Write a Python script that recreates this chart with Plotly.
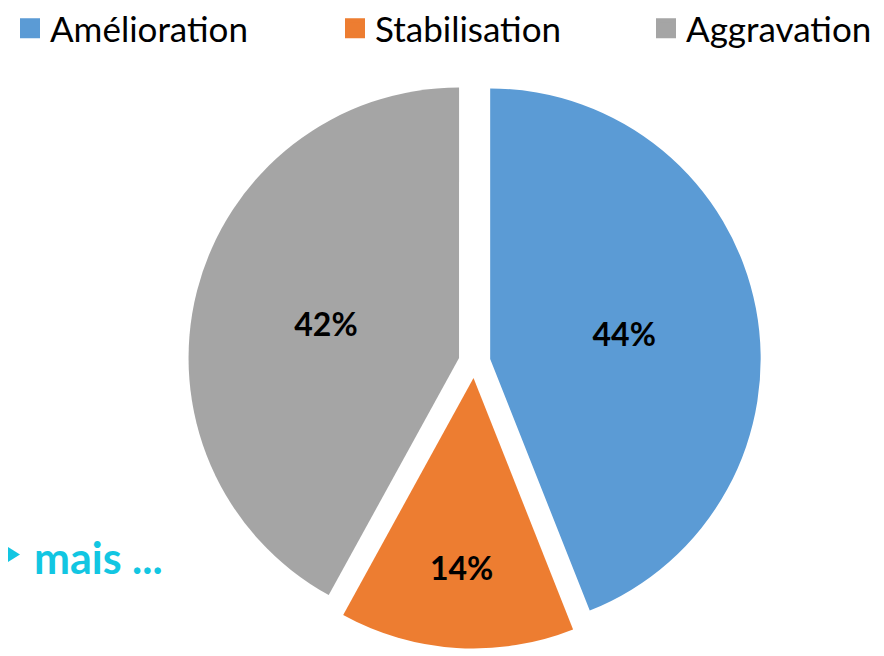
import plotly.graph_objects as go

labels = ["Amélioration", "Stabilisation", "Aggravation"]
values = [44, 14, 42]
colors = ["#5B9BD5", "#ED7D31", "#A5A5A5"]
note_text = "mais ..."
note_color = "#12C6E2"

W, H = 884, 656
cx, cy, r, pull = 466.5, 354, 270.5, 0.059
half = r * (1 + pull)

fig = go.Figure()
fig.add_trace(go.Pie(
    labels=labels, values=values, sort=False, direction="clockwise", rotation=0,
    marker=dict(colors=colors, line=dict(width=0)),
    pull=[pull] * len(values),
    texttemplate="%{percent:.0%}", textposition="inside", insidetextorientation="horizontal",
    textfont=dict(family="Lato", size=32, color="black", weight="bold"),
    domain=dict(x=[(cx - 400) / W, (cx + 400) / W], y=[1 - (cy + half) / H, 1 - (cy - half) / H]),
    hoverinfo="skip", showlegend=False,
))

# legend entries (one legend per category, to reproduce the wide spacing)
legend_x = [2, 327, 638]
legend_names = ["legend", "legend2", "legend3"]
for lab, col, ln in zip(labels, colors, legend_names):
    fig.add_trace(go.Scatter(
        x=[None], y=[None], mode="markers", name=lab, legend=ln,
        marker=dict(symbol="square", size=16, color=col, line=dict(width=4, color=col)),
        hoverinfo="skip",
    ))

layout_legends = {}
for lx, ln in zip(legend_x, legend_names):
    layout_legends[ln] = dict(
        orientation="h", x=lx / W, y=1 + 9 / H, xanchor="left", yanchor="top",
        font=dict(family="Lato", size=35, color="black"), bgcolor="rgba(0,0,0,0)",
    )

# bullet triangle before the note
tri = [(0, 539), (0, 554), (12, 546.5)]
tri_path = "M " + " L ".join(f"{x / W:.5f},{1 - y / H:.5f}" for x, y in tri) + " Z"

fig.update_layout(
    width=W, height=H, margin=dict(l=0, r=0, t=0, b=0, autoexpand=False),
    paper_bgcolor="white", plot_bgcolor="white",
    showlegend=True,
    xaxis=dict(visible=False), yaxis=dict(visible=False),
    shapes=[dict(type="path", xref="paper", yref="paper", path=tri_path,
                 fillcolor=note_color, line=dict(width=0))],
    annotations=[
        dict(text="<b>" + note_text + "</b>", x=24 / W, y=1 - 549 / H, xref="paper", yref="paper",
             xanchor="left", yanchor="middle", showarrow=False,
             font=dict(family="Lato", size=43, color=note_color)),
    ],
    **layout_legends,
)

fig.write_html("out.html")
